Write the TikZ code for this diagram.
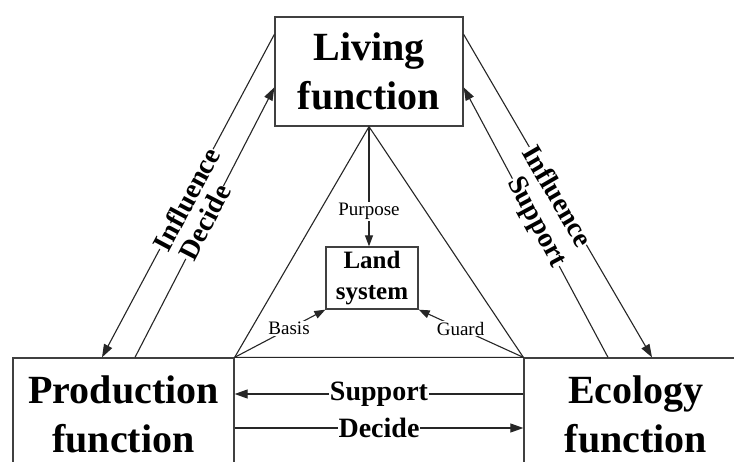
\documentclass[tikz,border=0pt]{standalone}
\usepackage{fontspec}
\setmainfont{Liberation Serif}
\usetikzlibrary{arrows.meta,calc}
\begin{document}
\begin{tikzpicture}[x=1pt,y=-1pt,
  box/.style={draw=black!75, line width=1.3pt, inner sep=0pt, align=center,
    font=\bfseries\fontsize{40}{49}\selectfont},
  conn/.style={draw=black!85, line width=1.1pt},
  arr/.style={conn, -{Triangle[length=13pt,width=9pt]}},
  sarr/.style={conn, -{Triangle[length=11pt,width=8pt]}},
  lab/.style={fill=white, inner sep=0.5pt, font=\bfseries\fontsize{28}{30}\selectfont},
  slab/.style={fill=white, inner sep=1pt, font=\fontsize{19}{21}\selectfont}]
\useasboundingbox (0,0) rectangle (734,461);
\clip (0,0) rectangle (734,461);
\fill[white] (0,0) rectangle (734,461);

\node[box, minimum width=188pt, minimum height=109pt] (living) at (369,71.5) {Living\\function};
\node[box, minimum width=221pt, minimum height=112pt] (prod) at (123.5,414) {Production\\function};
\node[box, minimum width=224pt, minimum height=112pt] (eco) at (636,414) {Ecology\\function};
\node[box, font=\bfseries\fontsize{25}{31}\selectfont, minimum width=92pt, minimum height=62pt] (land) at (372,278) {Land\\system};

% triangle
\draw[conn] (living.south) -- (prod.north east) -- (eco.north west) -- cycle;

% inner arrows
\draw[sarr] (living.south) -- (living.south |- land.north) node[slab, pos=0.71] {Purpose};
\draw[sarr] (prod.north east) -- (land.south west) node[slab, pos=0.6] {Basis};
\draw[sarr] (eco.north west) -- (land.south east) node[slab, pos=0.6] {Guard};

% bottom arrows
\draw[arr] ($(eco.west)+(0,-20)$) -- ($(prod.east)+(0,-20)$) node[lab, midway] {Support};
\draw[arr] ($(prod.east)+(0,14)$) -- ($(eco.west)+(0,14)$) node[lab, midway] {Decide};

% left diagonals
\draw[arr] ($(living.north west)+(0,18)$) -- ($(prod.north)+(-21.5,0)$) node[lab, pos=0.51, sloped] {Influence};
\draw[arr] ($(prod.north)+(11.5,0)$) -- ($(living.north west)+(0,71)$) node[lab, pos=0.5, sloped] {Decide};

% right diagonals
\draw[arr] ($(living.north east)+(0,18)$) -- ($(eco.north)+(16,0)$) node[lab, pos=0.5, sloped] {Influence};
\draw[arr] ($(eco.north)+(-28,0)$) -- ($(living.north east)+(0,71)$) node[lab, pos=0.5, sloped] {Support};
\end{tikzpicture}
\end{document}
